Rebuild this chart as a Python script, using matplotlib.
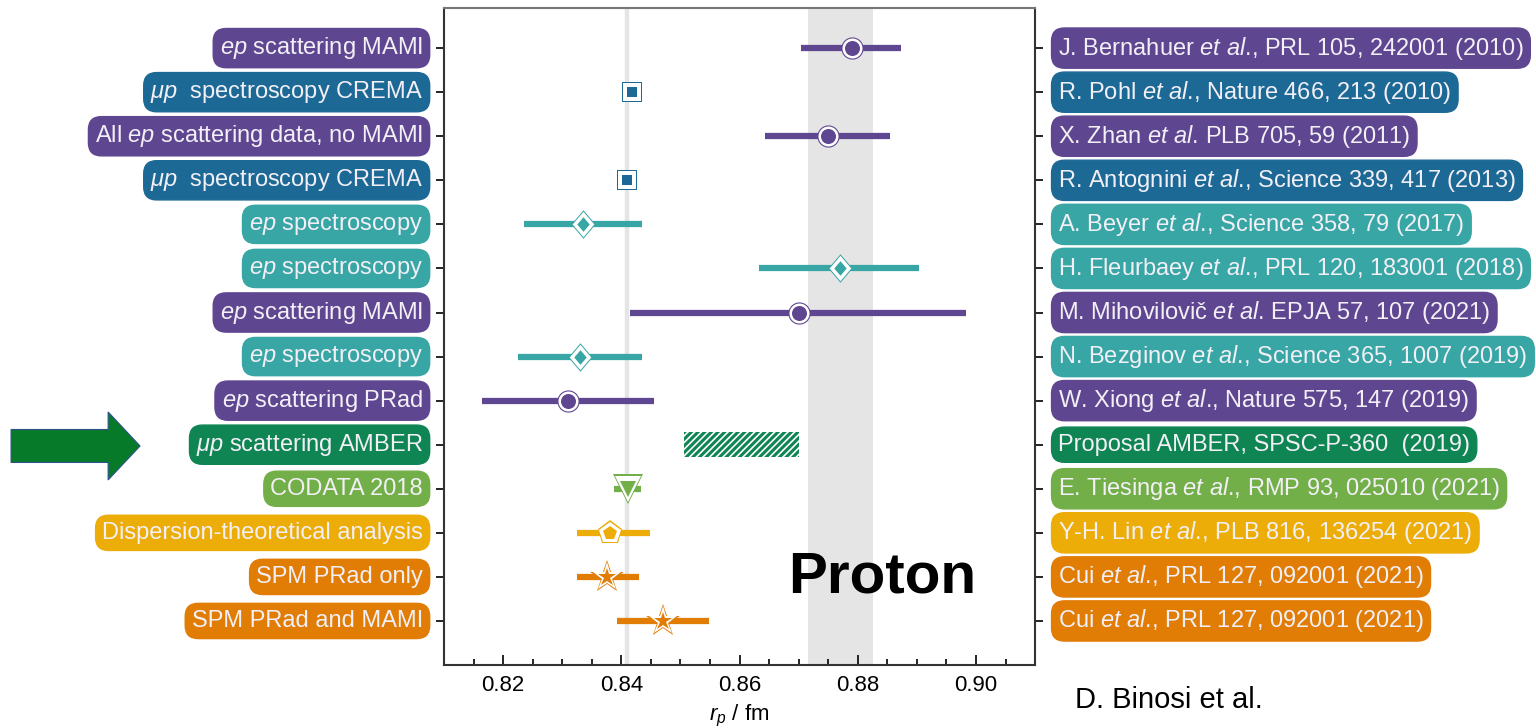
import numpy as np
import matplotlib
matplotlib.use('Agg')
import matplotlib.pyplot as plt
import matplotlib.patches as mpatches
from matplotlib.ticker import MultipleLocator, FormatStrFormatter

plt.rcParams['font.family'] = ['Liberation Sans', 'DejaVu Sans']
plt.rcParams['mathtext.fontset'] = 'custom'
plt.rcParams['mathtext.rm'] = 'Liberation Sans'
plt.rcParams['mathtext.it'] = 'Liberation Sans:italic'
plt.rcParams['hatch.linewidth'] = 1.2

###data (top to bottom)
left_labels = [r'$\mathit{ep}$ scattering MAMI',
               r'$\mathit{μp}$  spectroscopy CREMA',
               r'All $\mathit{ep}$ scattering data, no MAMI',
               r'$\mathit{μp}$  spectroscopy CREMA',
               r'$\mathit{ep}$ spectroscopy',
               r'$\mathit{ep}$ spectroscopy',
               r'$\mathit{ep}$ scattering MAMI',
               r'$\mathit{ep}$ spectroscopy',
               r'$\mathit{ep}$ scattering PRad',
               r'$\mathit{μp}$ scattering AMBER',
               'CODATA 2018',
               'Dispersion-theoretical analysis',
               'SPM PRad only',
               'SPM PRad and MAMI']
right_labels = [r'J. Bernahuer $\mathit{et\ al}$., PRL 105, 242001 (2010)',
                r'R. Pohl $\mathit{et\ al}$., Nature 466, 213 (2010)',
                r'X. Zhan $\mathit{et\ al}$. PLB 705, 59 (2011)',
                r'R. Antognini $\mathit{et\ al}$., Science 339, 417 (2013)',
                r'A. Beyer $\mathit{et\ al}$., Science 358, 79 (2017)',
                r'H. Fleurbaey $\mathit{et\ al}$., PRL 120, 183001 (2018)',
                r'M. Mihovilovič $\mathit{et\ al}$. EPJA 57, 107 (2021)',
                r'N. Bezginov $\mathit{et\ al}$., Science 365, 1007 (2019)',
                r'W. Xiong $\mathit{et\ al}$., Nature 575, 147 (2019)',
                'Proposal AMBER, SPSC-P-360  (2019)',
                r'E. Tiesinga $\mathit{et\ al}$., RMP 93, 025010 (2021)',
                r'Y-H. Lin $\mathit{et\ al}$., PLB 816, 136254 (2021)',
                r'Cui $\mathit{et\ al}$., PRL 127, 092001 (2021)',
                r'Cui $\mathit{et\ al}$., PRL 127, 092001 (2021)']
groups = ['ep_scat', 'mup_spec', 'ep_scat', 'mup_spec', 'ep_spec', 'ep_spec', 'ep_scat',
          'ep_spec', 'ep_scat', 'amber', 'codata', 'disp', 'spm', 'spm']
r_p = [0.879, 0.8418, 0.875, 0.8409, 0.8335, 0.877, 0.870, 0.833, 0.831, np.nan,
       0.8411, 0.838, 0.8376, 0.847]
r_lo = [0.8704, np.nan, 0.8643, np.nan, 0.8235, 0.8633, 0.8414, 0.8225, 0.8165, 0.8506,
        0.8388, 0.8325, 0.8325, 0.8392]
r_hi = [0.8873, np.nan, 0.8854, np.nan, 0.8435, 0.8903, 0.8983, 0.8435, 0.8456, 0.8700,
        0.8434, 0.8449, 0.8429, 0.8549]
muH = 0.8409  # grey line
band = (0.8715, 0.8825)  # grey band

colors = {'ep_scat': '#5f4690', 'mup_spec': '#1d6996', 'ep_spec': '#38a6a5', 'amber': '#0f8554',
          'codata': '#73af48', 'disp': '#edad08', 'spm': '#e17c05'}
diamond = [(0, 1), (0.85, 0), (0, -1), (-0.85, 0), (0, 1)]
#marker, outer / white / inner size (three stacked filled shapes)
markers = {'ep_scat': ('o', 16, 14.4, 10.8), 'mup_spec': ('s', 14.4, 13.0, 7.4),
           'ep_spec': (diamond, 20.5, 18.3, 10.5), 'codata': ('v', 21, 18.5, 11),
           'disp': ('p', 18.5, 16.3, 10.5), 'spm': ('*', 25, 21.5, 13.5)}

rows = np.arange(len(left_labels))

###plot
fig = plt.figure(figsize=(15.36, 7.28), dpi=100)
ax = fig.add_axes([0.2891, 0.0865, 0.3848, 0.9025])

ax.axvspan(band[0], band[1], color='#e5e5e5', lw=0, zorder=0)
ax.axvline(muH, color='#e5e5e5', lw=3.2, zorder=0)

for i in rows:
    c = colors[groups[i]]
    if groups[i] == 'amber':
        ax.barh(i, r_hi[i] - r_lo[i], left=r_lo[i], height=0.57, color=c,
                edgecolor='white', lw=0, hatch='/////', zorder=2)
        continue
    if not np.isnan(r_lo[i]):
        ax.hlines(i, r_lo[i], r_hi[i], color=c, lw=4.5, capstyle='butt', zorder=2)
    m, s_out, s_white, s_in = markers[groups[i]]
    ax.plot(r_p[i], i, marker=m, ms=s_out, mfc=c, mew=0, ls='none', zorder=3)
    ax.plot(r_p[i], i, marker=m, ms=s_white, mfc='white', mew=0, ls='none', zorder=4)
    ax.plot(r_p[i], i, marker=m, ms=s_in, mfc=c, mew=0, ls='none', zorder=5)

for i in rows:
    c = colors[groups[i]]
    box = dict(boxstyle='round,pad=0.28,rounding_size=0.55', fc=c, ec=c, lw=1)
    ax.text(-0.0355, i, left_labels[i], transform=ax.get_yaxis_transform(), ha='right',
            va='center', fontsize=17, color='#f2f0f6', bbox=box)
    ax.text(1.039, i, right_labels[i], transform=ax.get_yaxis_transform(), ha='left',
            va='center', fontsize=17, color='#f2f0f6', bbox=box)

ax.set_xlim(0.81, 0.91)
ax.set_ylim(14.0, -0.91)
ax.set_yticks(rows)
ax.set_yticklabels([])
ax.tick_params(axis='y', which='both', direction='out', length=6, width=1.2, left=True, right=True)
ax.xaxis.set_major_locator(MultipleLocator(0.02))
ax.xaxis.set_minor_locator(MultipleLocator(0.005))
ax.tick_params(axis='x', which='major', direction='in', length=7, width=1.2, labelsize=16,
               pad=7, top=False)
ax.tick_params(axis='x', which='minor', direction='in', length=4.5, width=1.2, top=False)
ax.xaxis.set_major_formatter(FormatStrFormatter('%.2f'))
ax.set_xlabel(r'$r_p$ / fm', fontsize=16, labelpad=5)
for sp in ax.spines.values():
    sp.set_linewidth(1.5)
    sp.set_color('#333333')
ax.spines['top'].set_color('#777777')

ax.text(0.582, 0.111, 'Proton', transform=ax.transAxes, fontsize=42, fontweight='bold',
        ha='left', va='baseline', zorder=6)
fig.text(0.6999, 0.0275, 'D. Binosi et al.', fontsize=21, ha='left', va='baseline')

arrow = mpatches.FancyArrow(0.0072, 0.3874, 0.084, 0, width=0.0453, head_width=0.0934,
                            head_length=0.0208, length_includes_head=True,
                            transform=fig.transFigure, fc='#077a2a', ec='#2f528f', lw=0.8)
fig.add_artist(arrow)

plt.savefig('out.png', dpi=100)
